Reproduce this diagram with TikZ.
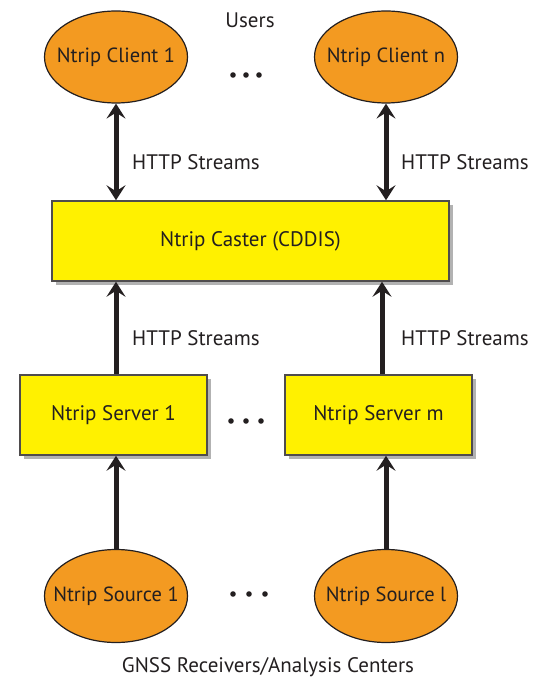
\documentclass[tikz,border=0pt]{standalone}
\usepackage{fontspec}
\setmainfont{PT Sans}
\usetikzlibrary{shapes.geometric,arrows.meta,shadows}
\definecolor{ntorange}{HTML}{F39A21}
\definecolor{ntyellow}{HTML}{FFF100}
\definecolor{ntline}{HTML}{231F20}
\newcommand{\zw}[1]{\makebox[0pt]{#1}}
\tikzset{
  oval/.style={ellipse,draw=ntline,line width=1.2pt,fill=ntorange,minimum width=143pt,minimum height=92pt,inner sep=0pt,font=\fontsize{20.5}{24}\selectfont,text=ntline},
  boxnode/.style={rectangle,draw=ntline!80,line width=1.5pt,fill=ntyellow,minimum height=80pt,inner sep=0pt,font=\fontsize{21}{24}\selectfont,text=ntline,
    drop shadow={shadow xshift=4pt,shadow yshift=-4pt,opacity=0.3,fill=black}},
  flow/.style={line width=5pt,draw=ntline,-{Stealth[length=15pt,width=19pt,inset=6pt]}},
  flowboth/.style={line width=5pt,draw=ntline,{Stealth[length=15pt,width=19pt,inset=6pt]}-{Stealth[length=15pt,width=19pt,inset=6pt]}},
  lbl/.style={font=\fontsize{21}{24}\selectfont,text=ntline,inner sep=0pt},
  dotmark/.style={fill=ntline}
}
\begin{document}
\begin{tikzpicture}[x=1pt,y=-1pt]
\useasboundingbox (0,0) rectangle (532,679);
% nodes
\node[oval] (c1) at (116,57) {\zw{Ntrip Client 1}};
\node[oval] (cn) at (386,57) {\zw{Ntrip Client n}};
\node[boxnode,minimum width=397pt] (caster) at (250.5,241) {Ntrip Caster (CDDIS)};
\node[boxnode,minimum width=187pt] (srv1) at (113.5,415) {Ntrip Server 1};
\node[boxnode,minimum width=187pt] (srvm) at (378.5,415) {Ntrip Server m};
\node[oval,minimum height=93pt] (src1) at (116,596) {\zw{Ntrip Source 1}};
\node[oval,minimum height=93pt] (srcl) at (386,596) {\zw{Ntrip Source l}};
\node[lbl] (users) at (250,20) {Users};
\node[lbl] (gnss) at (268,667) {GNSS Receivers/Analysis Centers};
% connectors
\draw[flowboth] (c1.south) -- (c1.south |- caster.north);
\draw[flowboth] (cn.south) -- (cn.south |- caster.north);
\coordinate (up1) at (116,281);
\coordinate (upm) at (382,281);
\draw[flow] (up1 |- srv1.north) -- (up1 |- caster.south);
\draw[flow] (upm |- srvm.north) -- (upm |- caster.south);
\draw[flow] (src1.north) -- (src1.north |- srv1.south);
\draw[flow] (srcl.north) -- (srcl.north |- srvm.south);
% labels
\node[lbl,anchor=west] (h1) at (132,162) {HTTP Streams};
\node[lbl,anchor=west] (h2) at (401,162) {HTTP Streams};
\node[lbl,anchor=west] (h3) at (132,338) {HTTP Streams};
\node[lbl,anchor=west] (h4) at (401,338) {HTTP Streams};
% dots
\foreach \x in {233,246,259} \fill[dotmark] (\x,75) circle (2.8pt);
\foreach \x in {231,246,261} \fill[dotmark] (\x,421) circle (2.8pt);
\foreach \x in {233,249,265} \fill[dotmark] (\x,594) circle (2.8pt);
\end{tikzpicture}
\end{document}
